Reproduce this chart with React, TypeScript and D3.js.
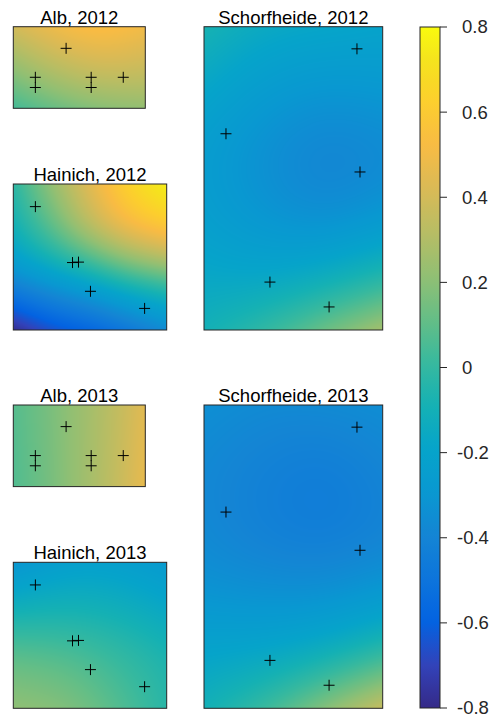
import React, { useMemo } from 'react';
import * as d3 from 'd3';

const years = [2012, 2013];

// site positions as fraction of the plot box (x from left, y from top)
const albSiteX = [0.40, 0.167, 0.167, 0.59, 0.59, 0.833];
const albSiteY = [0.265, 0.62, 0.745, 0.62, 0.745, 0.62];
const hainichSiteX = [0.144, 0.386, 0.425, 0.503, 0.856];
const hainichSiteY = [0.155, 0.538, 0.535, 0.735, 0.852];
const schorfSiteX = [0.856, 0.123, 0.873, 0.369, 0.70];
const schorfSiteY = [0.073, 0.353, 0.479, 0.842, 0.924];

// estimated field values on a coarse regular grid (rows top->bottom)
const alb2012 = [
  [0.40, 0.50, 0.56, 0.50],
  [0.22, 0.34, 0.40, 0.38],
  [0.04, 0.13, 0.20, 0.22],
];
const alb2013 = [
  [0.08, 0.15, 0.24, 0.33, 0.45],
  [0.07, 0.14, 0.24, 0.34, 0.47],
];
const hainich2012 = [
  [-0.02, 0.22, 0.45, 0.65, 0.76],
  [-0.08, 0.12, 0.38, 0.57, 0.64],
  [-0.20, -0.06, 0.08, 0.25, 0.34],
  [-0.48, -0.38, -0.30, -0.18, -0.10],
  [-0.78, -0.64, -0.58, -0.47, -0.36],
];
const hainich2013 = [
  [-0.30, -0.22, -0.22, -0.27],
  [-0.10, -0.08, -0.10, -0.16],
  [0.12, 0.09, 0.02, -0.05],
  [0.21, 0.19, 0.08, -0.03],
];
const schorf2012 = [
  [-0.08, -0.16, -0.18, -0.20],
  [-0.18, -0.26, -0.30, -0.28],
  [-0.26, -0.34, -0.41, -0.38],
  [-0.25, -0.32, -0.38, -0.33],
  [-0.18, -0.21, -0.18, -0.10],
  [-0.10, -0.02, 0.12, 0.26],
];
const schorf2013 = [
  [-0.34, -0.37, -0.37, -0.35],
  [-0.38, -0.42, -0.45, -0.40],
  [-0.38, -0.43, -0.46, -0.42],
  [-0.33, -0.35, -0.36, -0.32],
  [-0.20, -0.20, -0.16, -0.06],
  [-0.10, 0.00, 0.18, 0.36],
];

const colorTicks = [0.8, 0.6, 0.4, 0.2, 0, -0.2, -0.4, -0.6, -0.8];
const colorTickLabels = ['0.8', '0.6', '0.4', '0.2', '0', '-0.2', '-0.4', '-0.6', '-0.8'];

// parula, every 4th entry of the 64 colour map
const parulaIdx = [0, 4, 8, 12, 16, 20, 24, 28, 32, 36, 40, 44, 48, 52, 56, 60, 63];
const parula = [
  '#352a87', '#3243ba', '#0363e1', '#0d75dc', '#1485d4', '#0998d1', '#06a4ca', '#15b1b4',
  '#38b99e', '#65be86', '#92bf73', '#b7bd64', '#d9ba56', '#f8bb44', '#fcce2e', '#f5e41d', '#f9fb0e',
];

const vmin = -0.8, vmax = 0.8;
const color = d3.scaleLinear<string>()
  .domain(parulaIdx.map((i) => vmin + (vmax - vmin) * i / 63))
  .range(parula)
  .interpolate(d3.interpolateRgb)
  .clamp(true);

const W = 491, H = 717;
const font = '"Liberation Sans", Arial, Helvetica, sans-serif';

interface Box { x: number; y: number; w: number; h: number }

function fieldImage(grid: number[][], w: number, h: number) {
  const cw = Math.round(w), ch = Math.round(h);
  const canvas = document.createElement('canvas');
  canvas.width = cw;
  canvas.height = ch;
  const ctx = canvas.getContext('2d')!;
  const img = ctx.createImageData(cw, ch);
  const rows = grid.map((r) => d3.interpolateBasis(r));
  for (let px = 0; px < cw; px++) {
    const tx = (px + 0.5) / cw;
    const col = d3.interpolateBasis(rows.map((f) => f(tx)));
    for (let py = 0; py < ch; py++) {
      const c = d3.rgb(color(col((py + 0.5) / ch)));
      const k = (py * cw + px) * 4;
      img.data[k] = c.r;
      img.data[k + 1] = c.g;
      img.data[k + 2] = c.b;
      img.data[k + 3] = 255;
    }
  }
  ctx.putImageData(img, 0, 0);
  return canvas.toDataURL();
}

const Panel: React.FC<{ title: string; grid: number[][]; sx: number[]; sy: number[]; box: Box }> =
  ({ title, grid, sx, sy, box }) => {
    const href = useMemo(() => fieldImage(grid, box.w, box.h), [grid, box.w, box.h]);
    const x = d3.scaleLinear().domain([0, 1]).range([box.x, box.x + box.w]);
    const y = d3.scaleLinear().domain([0, 1]).range([box.y, box.y + box.h]);
    const s = 5.5;
    return (
      <g>
        <image href={href} x={box.x} y={box.y} width={box.w} height={box.h} preserveAspectRatio="none" />
        <rect x={box.x} y={box.y} width={box.w} height={box.h} fill="none" stroke="#262626" strokeWidth={1} />
        {sx.map((v, i) => (
          <path key={i}
            d={`M${x(v) - s},${y(sy[i])}H${x(v) + s}M${x(v)},${y(sy[i]) - s}V${y(sy[i]) + s}`}
            stroke="#000" strokeWidth={1} fill="none" />
        ))}
        <text x={box.x + box.w / 2} y={box.y - 3} textAnchor="middle" fontSize={18.5} fontFamily={font} fill="#000">
          {title}
        </text>
      </g>
    );
  };

const App: React.FC = () => {
  const rowOffset = 378.3;
  const albBox = { x: 13.3, y: 26.7, w: 132, h: 81.6 };
  const hainBox = { x: 13.3, y: 184, w: 153.4, h: 146 };
  const schBox = { x: 204, y: 26.7, w: 178.7, h: 303.3 };
  const shift = (b: Box, k: number) => ({ ...b, y: b.y + k * rowOffset });

  const albGrids = [alb2012, alb2013];
  const hainGrids = [hainich2012, hainich2013];
  const schGrids = [schorf2012, schorf2013];

  const cb = { x: 420, y: 27, w: 20, h: 681 };
  const cy = d3.scaleLinear().domain([vmin, vmax]).range([cb.y + cb.h, cb.y]);
  const gradStops = d3.range(0, 65).map((i) => vmin + (vmax - vmin) * i / 64);

  return (
    <svg width={W} height={H} style={{ position: 'absolute', left: 0, top: 0, background: '#fff' }}>
      <rect width={W} height={H} fill="#fff" />
      {years.map((yr, k) => (
        <g key={yr}>
          <Panel title={`Alb, ${yr}`} grid={albGrids[k]} sx={albSiteX} sy={albSiteY} box={shift(albBox, k)} />
          <Panel title={`Hainich, ${yr}`} grid={hainGrids[k]} sx={hainichSiteX} sy={hainichSiteY} box={shift(hainBox, k)} />
          <Panel title={`Schorfheide, ${yr}`} grid={schGrids[k]} sx={schorfSiteX} sy={schorfSiteY} box={shift(schBox, k)} />
        </g>
      ))}
      <defs>
        <linearGradient id="cbar" x1="0" y1="1" x2="0" y2="0">
          {gradStops.map((v, i) => (
            <stop key={i} offset={i / 64} stopColor={color(v)} />
          ))}
        </linearGradient>
      </defs>
      <rect x={cb.x} y={cb.y} width={cb.w} height={cb.h} fill="url(#cbar)" stroke="#262626" strokeWidth={1} />
      {colorTicks.map((t, i) => (
        <g key={t}>
          <line x1={cb.x + cb.w} x2={cb.x + cb.w + 7} y1={cy(t)} y2={cy(t)} stroke="#262626" strokeWidth={1} />
          <text x={t < 0 ? 457 : 462} y={cy(t)} dy="0.35em" fontSize={18.5} fontFamily={font} fill="#262626">
            {colorTickLabels[i]}
          </text>
        </g>
      ))}
    </svg>
  );
};

export default App;
